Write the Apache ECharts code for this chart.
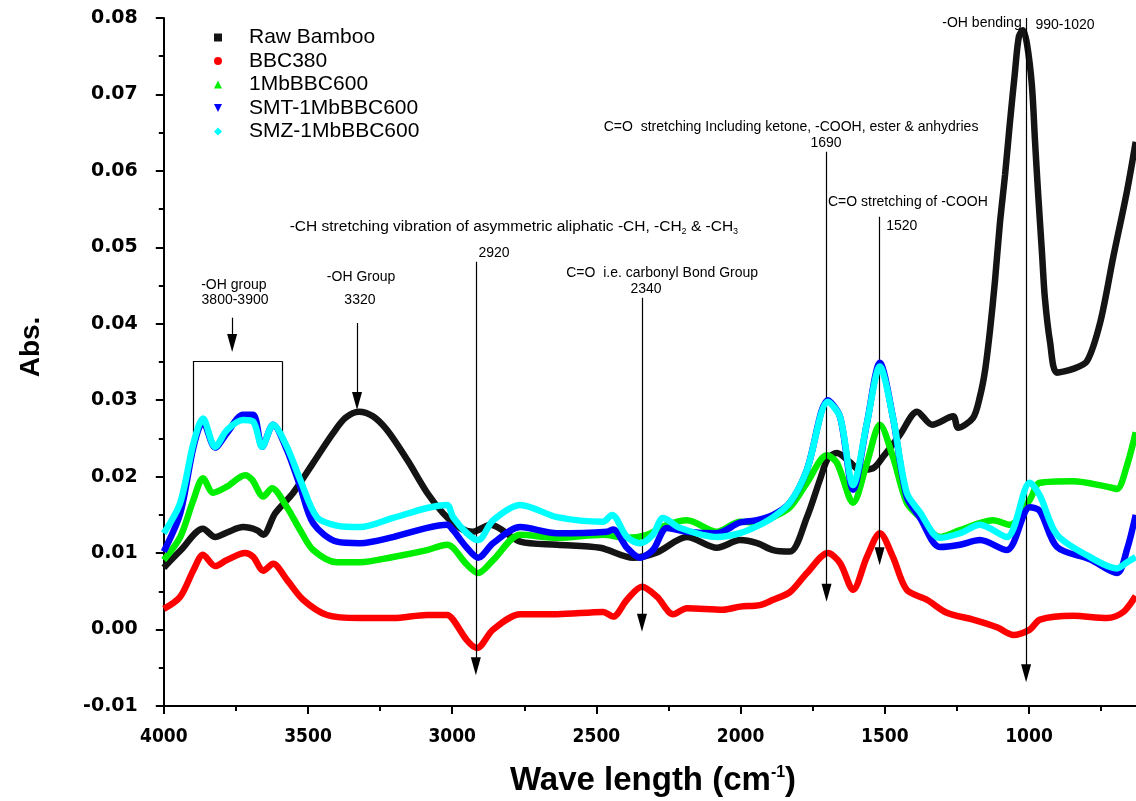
<!DOCTYPE html>
<html><head><meta charset="utf-8">
<script src="https://cdn.jsdelivr.net/npm/echarts@6/dist/echarts.min.js"></script>
<style>html,body{margin:0;padding:0;background:#fff;overflow:hidden;width:1136px;height:801px}#c{width:1174px;height:801px}</style>
</head><body><div id="c"></div>
<script>
// ---------- data (wavenumber cm-1, absorbance) ----------
const seriesNames = ['Raw Bamboo', 'BBC380', '1MbBBC600', 'SMT-1MbBBC600', 'SMZ-1MbBBC600'];
const seriesColors = ['#141414', '#ff0000', '#00ee00', '#0000ff', '#00ffff'];

const rawBamboo = [[4000,0.0081],[3943,0.0103],[3864,0.0132],[3822,0.0121],[3781,0.0127],[3725,0.0134],[3677,0.0130],[3655,0.0124],[3614,0.0152],[3551,0.0179],[3482,0.0218],[3413,0.0257],[3370,0.0277],[3323,0.0285],[3275,0.0279],[3226,0.0261],[3156,0.0222],[3087,0.0179],[3031,0.0152],[2973,0.0133],[2928,0.0128],[2868,0.0137],[2764,0.0115],[2636,0.0111],[2487,0.0107],[2373,0.0094],[2290,0.0101],[2186,0.0121],[2082,0.0107],[2002,0.0117],[1943,0.0113],[1887,0.0104],[1829,0.0102],[1770,0.0147],[1725,0.0196],[1697,0.0224],[1666,0.0231],[1621,0.0219],[1587,0.0209],[1541,0.0211],[1506,0.0226],[1447,0.0255],[1388,0.0285],[1336,0.0268],[1263,0.0279],[1246,0.0264],[1194,0.0277],[1170,0.0305],[1152,0.0340],[1135,0.0392],[1118,0.0456],[1101,0.0531],[1083,0.0595],[1066,0.0664],[1049,0.0728],[1035,0.0776],[1021,0.0784],[1007,0.0766],[990,0.0712],[979,0.0638],[969,0.0574],[955,0.0493],[945,0.0434],[927,0.0376],[903,0.0336],[847,0.0341],[799,0.0351],[753,0.0402],[708,0.0487],[660,0.0574],[630,0.0638]];

const bbc380 = [[4000,0.0027],[3943,0.0043],[3897,0.0078],[3864,0.0098],[3822,0.0083],[3781,0.0091],[3718,0.0100],[3690,0.0095],[3655,0.0077],[3621,0.0086],[3573,0.0065],[3517,0.0039],[3434,0.0019],[3320,0.0015],[3205,0.0015],[3087,0.0019],[3018,0.0019],[2997,0.0013],[2949,-0.0014],[2914,-0.0024],[2858,0.0000],[2764,0.0020],[2636,0.0020],[2477,0.0023],[2442,0.0017],[2394,0.0039],[2342,0.0056],[2290,0.0043],[2234,0.0020],[2186,0.0028],[2061,0.0026],[2002,0.0030],[1933,0.0032],[1887,0.0039],[1829,0.0049],[1770,0.0074],[1697,0.0100],[1655,0.0087],[1610,0.0052],[1562,0.0095],[1517,0.0126],[1472,0.0095],[1424,0.0052],[1354,0.0039],[1285,0.0022],[1194,0.0013],[1111,0.0003],[1056,-0.0007],[997,0.0000],[962,0.0013],[847,0.0018],[730,0.0015],[673,0.0023],[630,0.0044]];

const mb600 = [[4000,0.0091],[3943,0.0121],[3897,0.0170],[3864,0.0198],[3829,0.0179],[3781,0.0187],[3718,0.0202],[3694,0.0196],[3655,0.0174],[3625,0.0185],[3573,0.0160],[3527,0.0130],[3482,0.0104],[3400,0.0088],[3320,0.0088],[3205,0.0095],[3087,0.0104],[3018,0.0111],[2997,0.0107],[2949,0.0085],[2910,0.0074],[2858,0.0091],[2764,0.0124],[2636,0.0120],[2477,0.0124],[2394,0.0120],[2324,0.0124],[2255,0.0137],[2186,0.0143],[2082,0.0128],[2002,0.0141],[1933,0.0140],[1887,0.0147],[1829,0.0160],[1770,0.0192],[1701,0.0228],[1666,0.0218],[1610,0.0166],[1562,0.0218],[1517,0.0268],[1472,0.0226],[1424,0.0166],[1379,0.0147],[1309,0.0121],[1239,0.0130],[1125,0.0143],[1066,0.0137],[997,0.0170],[962,0.0192],[847,0.0194],[730,0.0187],[695,0.0184],[660,0.0215],[630,0.0258]];

const smt600 = [[4000,0.0102],[3943,0.0152],[3897,0.0239],[3864,0.0272],[3822,0.0238],[3781,0.0257],[3725,0.0281],[3690,0.0281],[3659,0.0239],[3621,0.0268],[3573,0.0235],[3527,0.0187],[3482,0.0139],[3400,0.0115],[3320,0.0113],[3205,0.0121],[3087,0.0133],[3018,0.0137],[2997,0.0130],[2949,0.0107],[2910,0.0094],[2858,0.0113],[2764,0.0134],[2636,0.0126],[2463,0.0128],[2442,0.0131],[2394,0.0107],[2349,0.0094],[2304,0.0104],[2255,0.0133],[2186,0.0128],[2082,0.0126],[2002,0.0140],[1943,0.0143],[1887,0.0150],[1829,0.0166],[1770,0.0209],[1697,0.0300],[1655,0.0278],[1610,0.0183],[1562,0.0270],[1517,0.0349],[1472,0.0278],[1424,0.0174],[1379,0.0147],[1309,0.0108],[1239,0.0111],[1170,0.0117],[1077,0.0104],[997,0.0160],[962,0.0155],[903,0.0108],[789,0.0092],[695,0.0074],[660,0.0105],[630,0.0150]];

const smz600 = [[4000,0.0126],[3943,0.0166],[3897,0.0244],[3864,0.0276],[3822,0.0239],[3781,0.0261],[3725,0.0274],[3690,0.0272],[3659,0.0239],[3621,0.0268],[3573,0.0239],[3527,0.0196],[3469,0.0147],[3400,0.0136],[3320,0.0134],[3205,0.0146],[3087,0.0159],[3018,0.0163],[2997,0.0147],[2949,0.0126],[2910,0.0117],[2858,0.0143],[2764,0.0163],[2636,0.0147],[2477,0.0141],[2446,0.0150],[2394,0.0121],[2349,0.0113],[2304,0.0124],[2269,0.0146],[2210,0.0133],[2082,0.0121],[2002,0.0126],[1933,0.0137],[1887,0.0147],[1829,0.0166],[1770,0.0209],[1697,0.0298],[1655,0.0278],[1610,0.0189],[1562,0.0270],[1517,0.0344],[1472,0.0278],[1424,0.0179],[1379,0.0154],[1309,0.0120],[1239,0.0126],[1170,0.0137],[1077,0.0121],[997,0.0192],[962,0.0175],[903,0.0124],[789,0.0095],[695,0.0080],[660,0.0088],[630,0.0095]];

const allSeries = [rawBamboo, bbc380, mb600, smt600, smz600];
const legendIcons = ['rect', 'circle', 'triangle', 'path://M0,0L10,0L5,10Z', 'diamond'];

// axis ranges / ticks
const xMin = 500, xMax = 4000, xInterval = 500;
const yMin = -0.01, yMax = 0.08, yInterval = 0.01;

// annotation arrows: [fromWn, fromAbs, toWn, toAbs]
const arrows = [
  [2918, 0.0481, 2918, -0.0048],
  [2342, 0.0434, 2342, 0.0009],
  [1702, 0.0625, 1702, 0.0048],
  [1518, 0.0540, 1518, 0.0096],
  [1010, 0.0800, 1010, -0.0057],
  [3330, 0.0401, 3330, 0.0299],
  [3763, 0.0408, 3763, 0.0375]
];
// bracket around 3800-3900 region
const bracket = [[3899, 0.0257], [3899, 0.0351], [3590, 0.0351], [3590, 0.0257]];

// annotation labels: [wn, abs, text]
const annotTexts = [
  [3757, 0.04505, '-OH group'],
  [3753, 0.04312, '3800-3900'],
  [3316, 0.04613, '-OH Group'],
  [3320, 0.04312, '3320'],
  [2786, 0.05267, '-CH stretching vibration of asymmetric aliphatic -CH, -CH{s|2} & -CH{s|3}'],
  [2855, 0.04927, '2920'],
  [2272, 0.04665, 'C=O  i.e. carbonyl Bond Group'],
  [2328, 0.04456, '2340'],
  [1825, 0.06575, 'C=O  stretching Including ketone, -COOH, ester & anhydries'],
  [1704, 0.06365, '1690'],
  [1420, 0.05590, 'C=O stretching of -COOH'],
  [1441, 0.05280, '1520'],
  [1163, 0.07936, '-OH bending'],
  [875, 0.07910, '990-1020']
];

// ---------- chart ----------
const chart = echarts.init(document.getElementById('c'), null, {renderer: 'canvas', width: 1174, height: 801});

const markLineData = arrows.map(a => [
  {coord: [a[0], a[1]], symbol: 'none'},
  {coord: [a[2], a[3]], symbol: 'triangle', symbolSize: [10, 18]}
]);
for (let i = 0; i < bracket.length - 1; i++) {
  markLineData.push([
    {coord: bracket[i], symbol: 'none'},
    {coord: bracket[i + 1], symbol: 'none'}
  ]);
}

const lineSeries = allSeries.map((d, i) => ({
  name: seriesNames[i],
  type: 'line',
  data: d,
  smooth: 0.3,
  showSymbol: false,
  symbol: legendIcons[i],
  lineStyle: {width: 6.5, color: seriesColors[i]},
  itemStyle: {color: seriesColors[i]},
  z: 2 + i,
  animation: false
}));

lineSeries.push({
  name: 'annot',
  type: 'line',
  data: [],
  silent: true,
  z: 10,
  markLine: {
    silent: true,
    animation: false,
    symbol: ['none', 'none'],
    label: {show: false},
    lineStyle: {color: '#000', width: 1.2, type: 'solid'},
    itemStyle: {color: '#000'},
    emphasis: {disabled: true},
    data: markLineData
  }
});

const sansFont = "'Liberation Sans', Arial, sans-serif";

const option = {
  backgroundColor: '#fff',
  animation: false,
  grid: {left: 163.8, right: 0.8, top: 18, bottom: 95, containLabel: false, outerBoundsMode: 'none'},
  legend: {
    orient: 'vertical',
    left: 209, top: 22,
    itemWidth: 8, itemHeight: 8, itemGap: 2.5,
    data: seriesNames.map((n, i) => ({name: n, icon: legendIcons[i]})),
    textStyle: {fontSize: 21, lineHeight: 20, color: '#000', fontFamily: sansFont, padding: [0, 0, 0, 22]},
    selectedMode: false
  },
  xAxis: {
    type: 'value', min: xMin, max: xMax, interval: xInterval, inverse: true,
    axisLine: {show: true, onZero: false, lineStyle: {color: '#000', width: 2}},
    axisTick: {show: true, inside: false, length: 8, lineStyle: {color: '#000', width: 2}},
    minorTick: {show: true, splitNumber: 2, length: 5, lineStyle: {color: '#000', width: 2}},
    splitLine: {show: false},
    axisLabel: {margin: 22, color: '#000', fontWeight: 'bold', fontSize: 19,
      fontFamily: "'DejaVu Sans Condensed', 'Liberation Sans', Arial, sans-serif",
      formatter: v => String(v)}
  },
  yAxis: {
    type: 'value', min: yMin, max: yMax, interval: yInterval,
    axisLine: {show: true, onZero: false, lineStyle: {color: '#000', width: 2}},
    axisTick: {show: true, inside: false, length: 8, lineStyle: {color: '#000', width: 2}},
    minorTick: {show: true, splitNumber: 2, length: 5, lineStyle: {color: '#000', width: 2}},
    splitLine: {show: false},
    axisLabel: {margin: 26, color: '#000', fontWeight: 'bold', fontSize: 19, fontFamily: "'DejaVu Sans', sans-serif",
      formatter: v => v.toFixed(2)}
  },
  series: lineSeries
};
chart.setOption(option);

// annotation texts placed at data coordinates
const gfx = annotTexts.map((t, i) => {
  const p = chart.convertToPixel({gridIndex: 0}, [t[0], t[1]]);
  const big = t[2].indexOf('{s|') >= 0;
  return {
    type: 'text', x: p[0], y: p[1], silent: true, z: 20,
    style: {
      text: t[2], fill: '#000', fontSize: big ? 15.5 : 14, fontFamily: sansFont,
      align: 'center', verticalAlign: 'middle', textAlign: 'center', textVerticalAlign: 'middle',
      rich: {s: {fontSize: 9, fontFamily: sansFont, padding: [10, 0, 0, 0]}}
    }
  };
});
// axis titles
gfx.push({
  type: 'text', x: 653, y: 781, silent: true,
  style: {
    text: 'Wave length (cm{sup|-1})', fill: '#000', fontSize: 33, fontWeight: 'bold',
    fontFamily: sansFont,
    align: 'center', verticalAlign: 'middle', textAlign: 'center', textVerticalAlign: 'middle',
    rich: {sup: {fontSize: 16, fontWeight: 'bold', fontFamily: sansFont, padding: [0, 0, 16, 0]}}
  }
});
gfx.push({
  type: 'text', x: 31, y: 347, rotation: Math.PI / 2, silent: true,
  style: {
    text: 'Abs.', fill: '#000', fontSize: 28, fontWeight: 'bold',
    fontFamily: sansFont,
    align: 'center', verticalAlign: 'middle', textAlign: 'center', textVerticalAlign: 'middle'
  }
});
chart.setOption({graphic: gfx});
</script>
</body></html>
